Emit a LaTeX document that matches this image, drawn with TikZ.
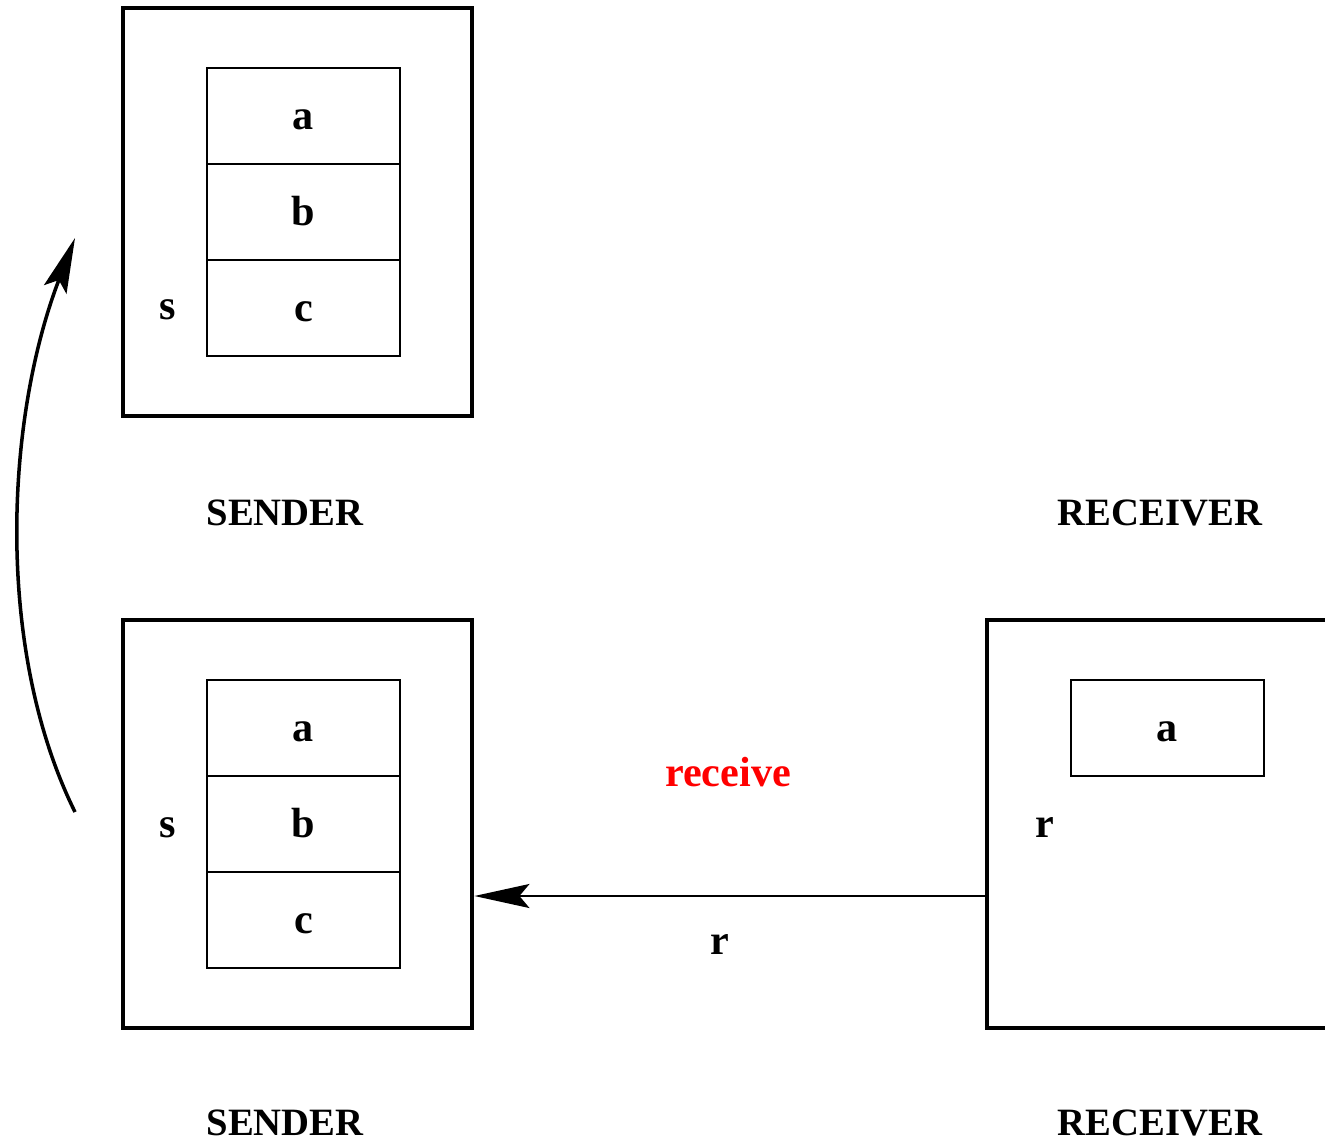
\documentclass[tikz,border=0pt]{standalone}
\usepackage{fontspec}
\setmainfont{Liberation Serif}
\usetikzlibrary{arrows.meta}
\usetikzlibrary{positioning}

\begin{document}
\begin{tikzpicture}[
		x=0.01cm, y=-0.01cm,
		every node/.style={font=\fontsize{12}{14}\selectfont\bfseries, inner sep=1pt},
		boxtitle/.style={font=\fontsize{11}{13}\selectfont\bfseries, anchor=base},
		ptr/.style={anchor=base},
		frame/.style={draw, line width=1.3pt, minimum width=3.49cm, minimum height=4.08cm},
		cell/.style={draw, line width=0.5pt, minimum width=1.93cm, minimum height=0.96cm,
				text height=8pt, text depth=0.2pt},
		tip/.style={-{Stealth[length=0.55cm, width=0.24cm, inset=0.1cm]}}
	]
	\useasboundingbox (0,0) rectangle (1325,1143);
	\clip (0,0) rectangle (1325,1143);

	% outer boxes (sender twice, receiver once)
	\node[frame] (topbox) at (297.5,212) {};
	\node[frame] (botbox) at (297.5,824) {};
	\node[frame] (rcvbox) at (1161.5,824) {};

	% stack cells
	\foreach \l [count=\i] in {a,b,c} {
			\node[cell] (top\l) at (303.5,20+96*\i) {\l};
			\node[cell] (bot\l) at (303.5,632+96*\i) {\l};
		}
	\node[cell] (rcva) at (1167.5,728) {a};

	% pointer names
	\node[ptr] (tops) at (168,320) {s};
	\node[ptr] (bots) at (168,837) {s};
	\node[ptr] (rcvr) at (1045,837) {r};

	% box titles
	\node[boxtitle] (topsnd) at (285,525) {SENDER};
	\node[boxtitle] (toprcv) at (1160,525) {RECEIVER};
	\node[boxtitle] (botsnd) at (285,1135) {SENDER};
	\node[boxtitle] (botrcv) at (1160,1135) {RECEIVER};

	% message passing
	\coordinate (lvl) at (0,896);
	\draw[tip, line width=0.6pt] (rcvbox.west |- lvl) -- (botbox.east |- lvl);
	\node[ptr, red] (recv) at (728,786) {receive};
	\node[ptr] (msgr) at (720,954) {r};

	% step from bottom to top
	\coordinate (cstart) at (75,812);
	\coordinate (cend) at (75,238);
	\draw[tip, line width=1pt] (cstart) .. controls (-5,650) and (5,420) .. (cend);

\end{tikzpicture}
\end{document}
